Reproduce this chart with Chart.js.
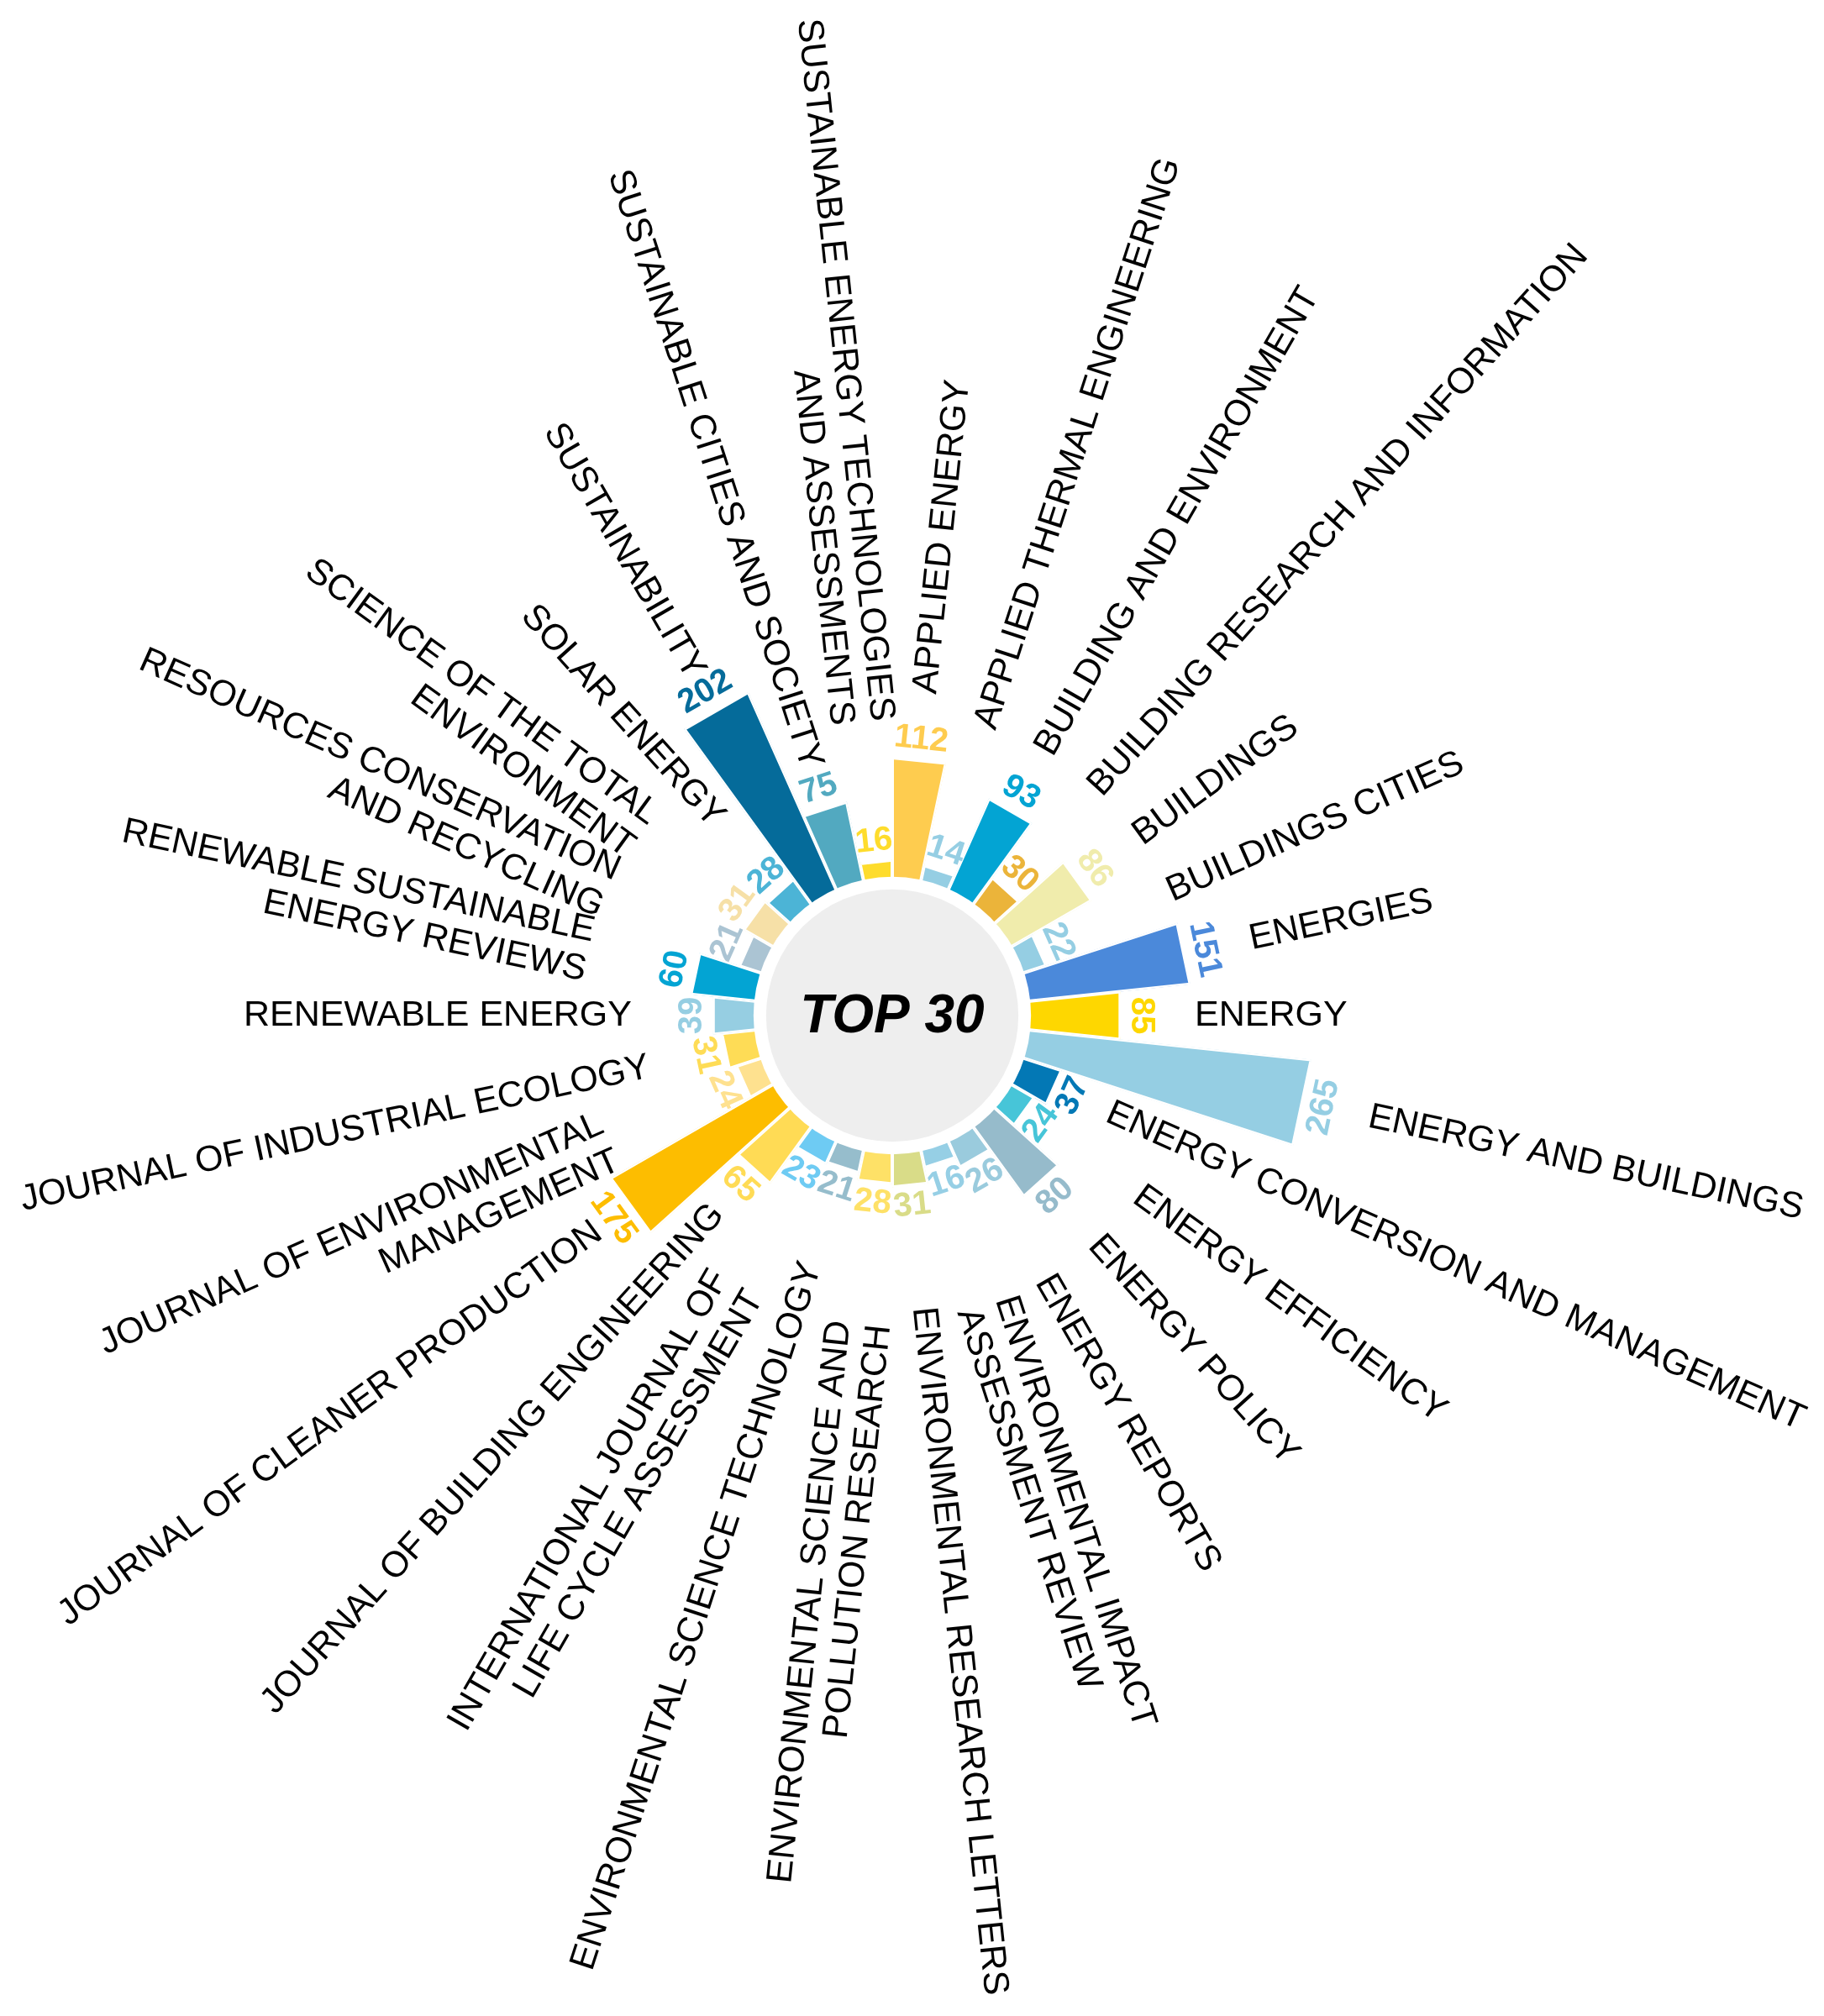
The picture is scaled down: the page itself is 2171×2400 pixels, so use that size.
<!DOCTYPE html>
<html>
<head>
<meta charset="utf-8">
<title>Top 30 journals</title>
<script src="https://cdn.jsdelivr.net/npm/chart.js@4.4.1/dist/chart.umd.min.js"></script>
<style>
  html, body { margin: 0; padding: 0; background: #fff; }
  #wrap { width: 2171px; height: 2400px; position: relative; }
</style>
</head>
<body>
<div id="wrap"><canvas id="journals-chart"></canvas></div>
<script>
// journals in clockwise order, starting just right of 12 o'clock
const categories = [
  "APPLIED ENERGY",
  "APPLIED THERMAL ENGINEERING",
  "BUILDING AND ENVIRONMENT",
  "BUILDING RESEARCH AND INFORMATION",
  "BUILDINGS",
  "BUILDINGS CITIES",
  "ENERGIES",
  "ENERGY",
  "ENERGY AND BUILDINGS",
  "ENERGY CONVERSION AND MANAGEMENT",
  "ENERGY EFFICIENCY",
  "ENERGY POLICY",
  "ENERGY REPORTS",
  ["ENVIRONMENTAL IMPACT", "ASSESSMENT REVIEW"],
  "ENVIRONMENTAL RESEARCH LETTERS",
  ["ENVIRONMENTAL SCIENCE AND", "POLLUTION RESEARCH"],
  "ENVIRONMENTAL SCIENCE TECHNOLOGY",
  ["INTERNATIONAL JOURNAL OF", "LIFE CYCLE ASSESSMENT"],
  "JOURNAL OF BUILDING ENGINEERING",
  "JOURNAL OF CLEANER PRODUCTION",
  ["JOURNAL OF ENVIRONMENTAL", "MANAGEMENT"],
  "JOURNAL OF INDUSTRIAL ECOLOGY",
  "RENEWABLE ENERGY",
  ["RENEWABLE SUSTAINABLE", "ENERGY REVIEWS"],
  ["RESOURCES CONSERVATION", "AND RECYCLING"],
  ["SCIENCE OF THE TOTAL", "ENVIRONMENT"],
  "SOLAR ENERGY",
  "SUSTAINABILITY",
  "SUSTAINABLE CITIES AND SOCIETY",
  ["SUSTAINABLE ENERGY TECHNOLOGIES", "AND ASSESSMENTS"]
];

const counts = [
  112, 14, 93, 30, 86, 22, 151, 85, 265, 37,
  24, 80, 26, 16, 31, 28, 21, 23, 65, 175,
  24, 31, 39, 60, 21, 31, 28, 202, 75, 16
];

const barColors = [
  "#fecc4f", "#95cee3", "#03a4d3", "#ebb43a", "#f0ecac", "#95cee3",
  "#4b89da", "#fed700", "#95cee3", "#0378b5", "#47c5d8", "#96bbcb",
  "#9acbdd", "#96cfe5", "#d9dc88", "#fee167", "#96bdcc", "#6ecbf3",
  "#ffdb55", "#fdbd00", "#fee18f", "#fedc56", "#96cee2", "#03a4d3",
  "#abc4d3", "#f6e0a7", "#4cb4d6", "#056b9a", "#52a9c0", "#fedc2c"
];

const centerTitle = "TOP 30";
const fontFamily = "'Liberation Sans', Arial, sans-serif";

// hub, value labels and journal names are painted after the arcs
const radialLabels = {
  id: "radialLabels",
  afterDatasetsDraw(chart) {
    const { ctx, width, height } = chart;
    const scale = chart.scales.r;
    const cx = scale.xCenter;
    const cy = scale.yCenter;
    const arcs = chart.getDatasetMeta(0).data;
    const r0 = scale.getDistanceFromCenterForValue(0);

    ctx.save();
    ctx.fillStyle = "#fff";
    ctx.beginPath();
    ctx.arc(cx, cy, r0, 0, Math.PI * 2);
    ctx.fill();
    ctx.fillStyle = "#eeeeee";
    ctx.beginPath();
    ctx.arc(cx, cy, r0 - 15, 0, Math.PI * 2);
    ctx.fill();

    ctx.fillStyle = "#000";
    ctx.font = "italic bold 64px " + fontFamily;
    ctx.textAlign = "center";
    ctx.textBaseline = "middle";
    ctx.fillText(centerTitle, cx, cy + 2);

    arcs.forEach((arc, i) => {
      const mid = (arc.startAngle + arc.endAngle) / 2;
      const fromTop = mid + Math.PI / 2;
      const R = arc.outerRadius;

      // value at the tip of the bar, written along the circle
      const lower = fromTop > Math.PI / 2 + 1e-6 && fromTop < Math.PI * 1.5 - 1e-6;
      ctx.save();
      ctx.translate(cx + Math.cos(mid) * (R + 23), cy + Math.sin(mid) * (R + 23));
      ctx.rotate(lower ? fromTop - Math.PI : fromTop);
      ctx.font = "bold 40px " + fontFamily;
      ctx.fillStyle = arc.options.backgroundColor;
      ctx.textAlign = "center";
      ctx.textBaseline = "middle";
      ctx.fillText(String(chart.data.datasets[0].data[i]), 0, 0);
      ctx.restore();

      // journal name, radial
      const lines = [].concat(chart.data.labels[i]);
      const flip = fromTop > Math.PI + 1e-6;
      ctx.font = "43px " + fontFamily;
      const w = Math.max(...lines.map(l => ctx.measureText(l).width));
      let r = flip
        ? Math.max(lines.length > 1 ? 368 : 310, R + 45)
        : Math.max(360, R + 78);
      const ux = Math.cos(mid), uy = Math.sin(mid), m = 25;
      let reach = Infinity;
      if (ux > 1e-6) reach = Math.min(reach, (width - m - cx) / ux);
      if (ux < -1e-6) reach = Math.min(reach, (m - cx) / ux);
      if (uy > 1e-6) reach = Math.min(reach, (height - m - cy) / uy);
      if (uy < -1e-6) reach = Math.min(reach, (m - cy) / uy);
      r = Math.min(r, reach - w);

      ctx.save();
      ctx.translate(cx, cy);
      ctx.rotate(flip ? mid + Math.PI : mid);
      ctx.fillStyle = "#000";
      ctx.textAlign = flip ? "right" : "left";
      ctx.textBaseline = "middle";
      lines.forEach((line, k) => {
        ctx.fillText(line, flip ? -r : r, (k - (lines.length - 1) / 2) * 48);
      });
      ctx.restore();
    });
    ctx.restore();
  }
};

new Chart("journals-chart", {
  type: "polarArea",
  data: {
    labels: categories,
    datasets: [
      {
        label: "Publications",
        data: counts,
        backgroundColor: barColors,
        borderColor: "#ffffff",
        borderWidth: 2,
        borderAlign: "inner",
        circular: false
      }
    ]
  },
  options: {
    responsive: true,
    maintainAspectRatio: false,
    animation: false,
    layout: { padding: { left: 362, right: 409, top: 509, bottom: 491 } },
    plugins: {
      legend: { display: false },
      tooltip: { enabled: false }
    },
    scales: {
      r: {
        display: false,
        min: -130,
        max: 421,
        startAngle: 0
      }
    }
  },
  plugins: [radialLabels]
});
</script>
</body>
</html>
